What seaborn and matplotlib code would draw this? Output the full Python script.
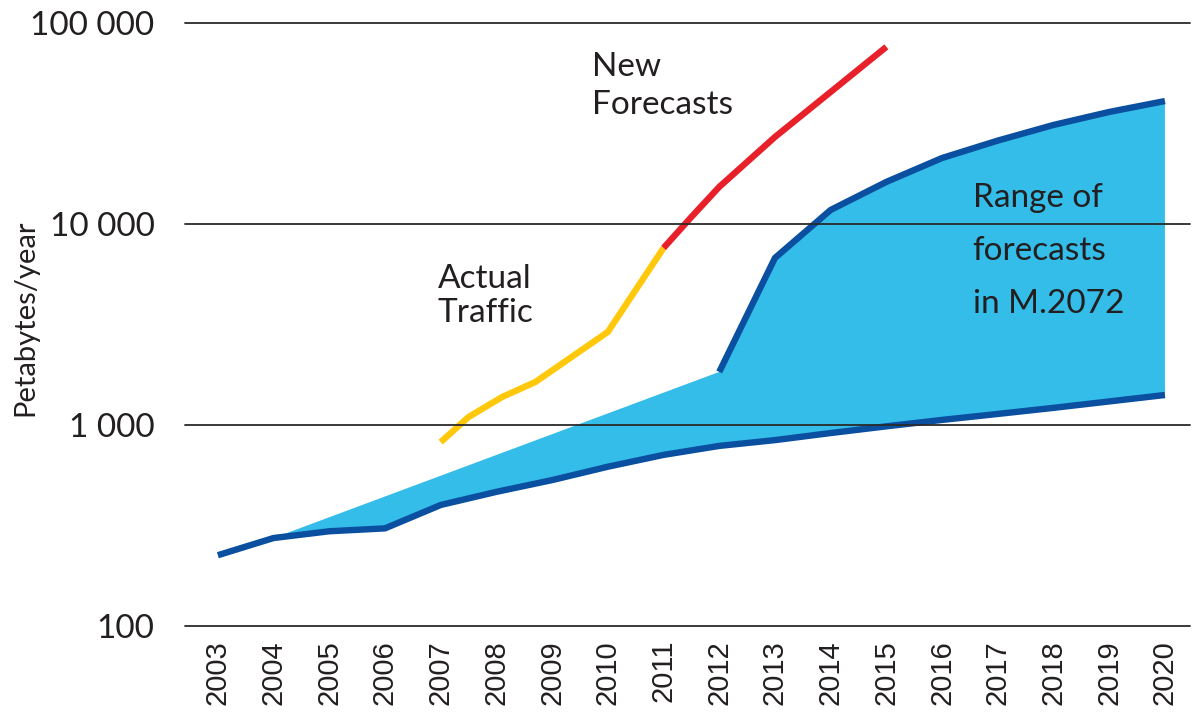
import matplotlib
matplotlib.use("Agg")
import matplotlib.pyplot as plt
import seaborn as sns
import numpy as np

# ---- data ----
years_ticks = list(range(2003, 2021))

lower_years = [2003, 2004, 2005, 2006, 2007, 2008, 2009, 2010, 2011, 2012, 2013,
               2014, 2015, 2016, 2017, 2018, 2019, 2020]
lower_vals = [225, 274, 296, 306, 400, 465, 532, 620, 710, 787, 841,
              912, 985, 1060, 1135, 1217, 1310, 1410]

upper_years = [2003, 2004, 2012, 2013, 2014, 2015, 2016, 2017, 2018, 2019, 2020]
upper_vals = [225, 274, 1837, 6780, 11750, 16200, 21300, 26000, 31100, 36100, 40900]

upper_line_years = [2012, 2013, 2014, 2015, 2016, 2017, 2018, 2019, 2020]
upper_line_vals = [1837, 6780, 11750, 16200, 21300, 26000, 31100, 36100, 40900]

actual_years = [2007, 2007.5, 2008.1, 2008.7, 2010, 2011]
actual_vals = [822, 1096, 1377, 1637, 2904, 7600]

new_years = [2011, 2011.5, 2012, 2013, 2014, 2015]
new_vals = [7600, 10840, 15300, 27100, 45400, 76100]

y_ticks = [100, 1000, 10000, 100000]
y_ticklabels = ["100", "1 000", "10 000", "100 000"]

# ---- style ----
sns.set_theme(style="white")
plt.rcParams['font.family'] = ['Lato', 'DejaVu Sans']

FILL = "#33BDE8"
DARK = "#0A4FA0"
YELLOW = "#FFC80A"
RED = "#E8202A"
GRID = "#2a2a2a"

fig = plt.figure(figsize=(12, 7.13), dpi=100)
ax = fig.add_axes([185/1200, 1-626/713, (1190-185)/1200, (626-23)/713])
ax.set_yscale("log")
ax.set_ylim(100, 100000)
ax.set_xlim(2002.41, 2020.45)

# range fill
poly_x = np.concatenate([upper_years, lower_years[::-1]])
poly_y = np.concatenate([upper_vals, lower_vals[::-1]])
ax.fill(poly_x, poly_y, color=FILL, lw=0, zorder=1)

lw = 4.6
sns.lineplot(x=lower_years, y=lower_vals, ax=ax, color=DARK, lw=lw,
             estimator=None, sort=False, zorder=3, solid_capstyle="butt")
sns.lineplot(x=upper_line_years, y=upper_line_vals, ax=ax, color=DARK, lw=lw,
             estimator=None, sort=False, zorder=3, solid_capstyle="butt")
sns.lineplot(x=actual_years, y=actual_vals, ax=ax, color=YELLOW, lw=lw,
             estimator=None, sort=False, zorder=3, solid_capstyle="butt")
sns.lineplot(x=new_years, y=new_vals, ax=ax, color=RED, lw=lw,
             estimator=None, sort=False, zorder=3, solid_capstyle="butt")

# horizontal rules (drawn over the data, as in the reference)
for v in y_ticks:
    ax.axhline(v, color=GRID, lw=1.3, zorder=5, clip_on=False)

for s in ax.spines.values():
    s.set_visible(False)

ax.set_yticks(y_ticks)
ax.set_yticklabels(y_ticklabels, fontsize=24, color="#231f20")
ax.yaxis.set_minor_locator(matplotlib.ticker.NullLocator())
ax.tick_params(axis="y", length=0, pad=22)

ax.set_xticks(years_ticks)
ax.set_xticklabels([str(y) for y in years_ticks], rotation=90,
                   fontsize=21, family="Liberation Sans", color="#231f20")
ax.tick_params(axis="x", length=0, pad=10)

ax.set_xlabel("")
ax.set_ylabel("")
fig.text(25/1200, 1-318/713, "Petabytes/year", rotation=90, fontsize=21,
         ha="center", va="center", color="#231f20")

txt_kw = dict(fontsize=24, color="#231f20", ha="left", va="top", zorder=6)
ax.text(2009.71, 72000, "New\nForecasts", linespacing=1.35, **txt_kw)
ax.text(2006.95, 6300, "Actual\nTraffic", linespacing=1.15, **txt_kw)
ax.text(2016.55, 16000, "Range of\nforecasts\nin M.2072", linespacing=1.95, **txt_kw)

fig.savefig("out.png", dpi=100)
